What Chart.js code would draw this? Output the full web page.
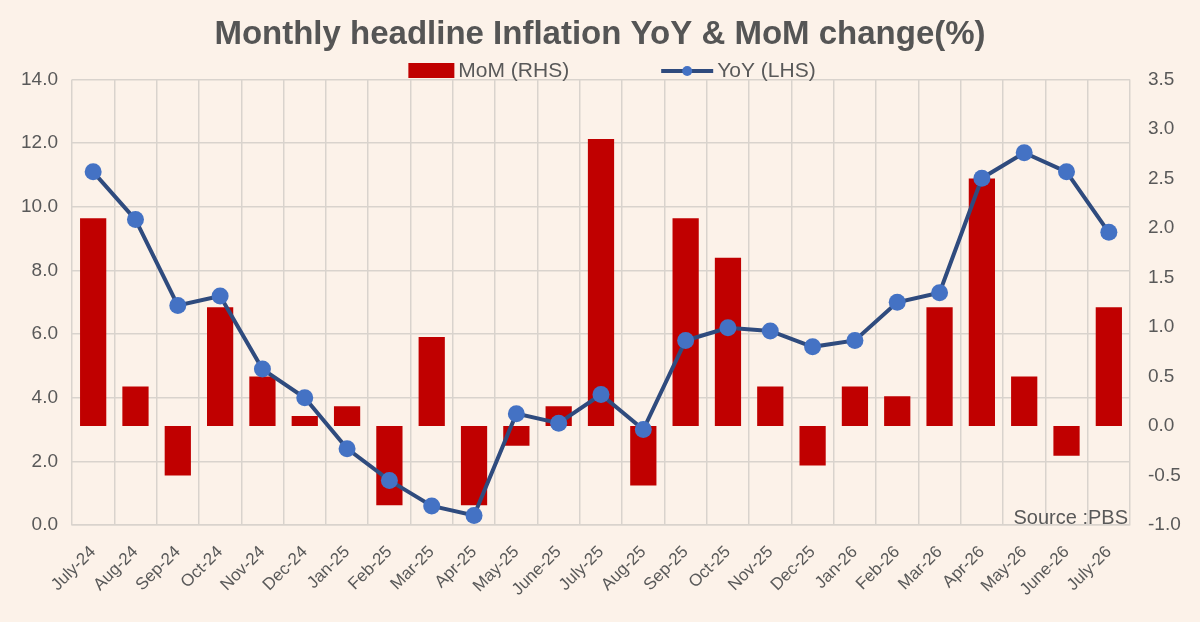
<!DOCTYPE html>
<html>
<head>
<meta charset="utf-8">
<title>Monthly headline Inflation</title>
<script src="https://cdn.jsdelivr.net/npm/chart.js@4.4.1/dist/chart.umd.min.js"></script>
<style>
    html, body { margin: 0; padding: 0; background: #fcf2e9; }
    #wrap { width: 1200px; height: 622px; }
</style>
</head>
<body>
<div id="wrap"><canvas id="inflationChart" width="1200" height="622"></canvas></div>
<script>
// Chart data
const months = ['July-24', 'Aug-24', 'Sep-24', 'Oct-24', 'Nov-24', 'Dec-24', 'Jan-25', 'Feb-25',
    'Mar-25', 'Apr-25', 'May-25', 'June-25', 'July-25', 'Aug-25', 'Sep-25', 'Oct-25', 'Nov-25',
    'Dec-25', 'Jan-26', 'Feb-26', 'Mar-26', 'Apr-26', 'May-26', 'June-26', 'July-26'];
const momValues = [2.1, 0.4, -0.5, 1.2, 0.5, 0.1, 0.2, -0.8, 0.9, -0.8, -0.2, 0.2, 2.9, -0.6,
    2.1, 1.7, 0.4, -0.4, 0.4, 0.3, 1.2, 2.5, 0.5, -0.3, 1.2];
const yoyValues = [11.1, 9.6, 6.9, 7.2, 4.9, 4.0, 2.4, 1.4, 0.6, 0.3, 3.5, 3.2, 4.1, 3.0,
    5.8, 6.2, 6.1, 5.6, 5.8, 7.0, 7.3, 10.9, 11.7, 11.1, 9.2];
const leftTicks = { min: 0, max: 14, step: 2 };
const rightTicks = { min: -1, max: 3.5, step: 0.5 };
const titleText = 'Monthly headline Inflation YoY & MoM change(%)';
const sourceText = 'Source :PBS';

const textGray = '#595959';
const barRed = '#c00000';
const lineNavy = '#2f4b7e';
const pointBlue = '#4472c4';

// Legend and source note drawn on top of the chart
const extrasPlugin = {
    id: 'extras',
    afterDraw: function(chart) {
        const ctx = chart.ctx;
        const area = chart.chartArea;
        ctx.save();
        ctx.font = '21px "Liberation Sans", Arial, sans-serif';
        ctx.fillStyle = textGray;
        ctx.textBaseline = 'middle';

        const momLabel = chart.data.datasets[0].label;
        const yoyLabel = chart.data.datasets[1].label;
        const box = 46, gap = 4, spacing = 92;
        const total = box + gap + ctx.measureText(momLabel).width + spacing +
            52 + gap + ctx.measureText(yoyLabel).width;
        let x = 612 - total / 2;
        const y = 71;

        ctx.fillStyle = barRed;
        ctx.fillRect(x, y - 8, box, 15);
        x += box + gap;
        ctx.fillStyle = textGray;
        ctx.fillText(momLabel, x, y);
        x += ctx.measureText(momLabel).width + spacing;

        ctx.strokeStyle = lineNavy;
        ctx.lineWidth = 4;
        ctx.beginPath();
        ctx.moveTo(x, y);
        ctx.lineTo(x + 52, y);
        ctx.stroke();
        ctx.fillStyle = pointBlue;
        ctx.beginPath();
        ctx.arc(x + 26, y, 5, 0, Math.PI * 2);
        ctx.fill();
        x += 52 + gap;
        ctx.fillStyle = textGray;
        ctx.fillText(yoyLabel, x, y);

        // Source note, bottom right inside the plot
        ctx.font = '20px "Liberation Sans", Arial, sans-serif';
        ctx.textAlign = 'right';
        ctx.textBaseline = 'bottom';
        ctx.fillText(sourceText, area.right - 2, area.bottom + 3);
        ctx.restore();
    }
};

const bgPlugin = {
    id: 'bg',
    beforeDraw: function(chart) {
        const ctx = chart.ctx;
        ctx.save();
        ctx.fillStyle = '#fcf2e9';
        ctx.fillRect(0, 0, chart.width, chart.height);
        ctx.restore();
    }
};

const tickFont = { family: '"Liberation Sans", Arial, sans-serif', size: 19 };

new Chart(document.getElementById('inflationChart'), {
    type: 'bar',
    data: {
        labels: months,
        datasets: [{
            type: 'bar',
            label: 'MoM (RHS)',
            data: momValues,
            yAxisID: 'y1',
            backgroundColor: barRed,
            categoryPercentage: 1,
            barPercentage: 0.62,
            order: 2
        }, {
            type: 'line',
            label: 'YoY (LHS)',
            data: yoyValues,
            yAxisID: 'y',
            borderColor: lineNavy,
            borderWidth: 4,
            pointRadius: 8.5,
            pointBackgroundColor: pointBlue,
            pointBorderColor: pointBlue,
            pointBorderWidth: 0,
            tension: 0,
            order: 1
        }]
    },
    options: {
        responsive: false,
        animation: false,
        devicePixelRatio: 1,
        layout: { padding: { left: 0, right: 0, top: 0, bottom: 0 } },
        plugins: {
            legend: { display: false },
            tooltip: { enabled: false },
            title: {
                display: true,
                text: titleText,
                color: '#555555',
                font: { family: '"Liberation Sans", Arial, sans-serif', size: 33, weight: 'bold' },
                padding: { top: 15, bottom: 25 }
            }
        },
        scales: {
            x: {
                grid: { color: '#d9d3cd', lineWidth: 1.5, drawTicks: false, offset: true },
                border: { color: '#d9d3cd', width: 1.5 },
                ticks: {
                    color: textGray,
                    font: { family: '"Liberation Sans", Arial, sans-serif', size: 17 },
                    maxRotation: 45,
                    minRotation: 45,
                    autoSkip: false,
                    padding: 17
                },
                afterFit: function(scale) { scale.height = 97; }
            },
            y: {
                position: 'left',
                min: leftTicks.min,
                max: leftTicks.max,
                grid: { color: '#d9d3cd', lineWidth: 1.5, drawTicks: false },
                border: { display: false },
                ticks: {
                    stepSize: leftTicks.step,
                    color: textGray,
                    font: tickFont,
                    padding: 14,
                    callback: function(v) { return v.toFixed(1); }
                },
                afterFit: function(scale) { scale.width = 72; }
            },
            y1: {
                position: 'right',
                min: rightTicks.min,
                max: rightTicks.max,
                grid: { display: false, drawTicks: false },
                border: { display: false },
                ticks: {
                    stepSize: rightTicks.step,
                    color: textGray,
                    font: tickFont,
                    padding: 18,
                    callback: function(v) { return v.toFixed(1); }
                },
                afterFit: function(scale) { scale.width = 70; }
            }
        }
    },
    plugins: [bgPlugin, extrasPlugin]
});
</script>
</body>
</html>
